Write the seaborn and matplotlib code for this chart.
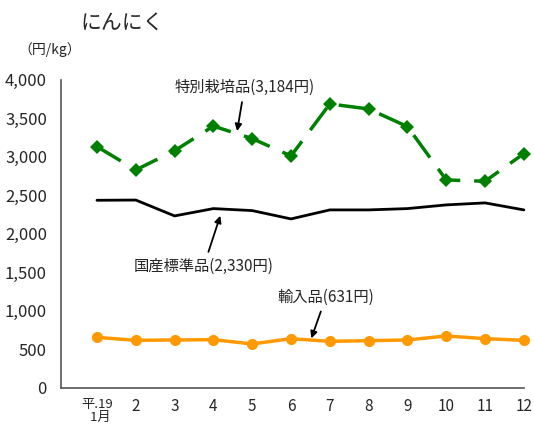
import matplotlib
matplotlib.use('Agg')
import matplotlib.pyplot as plt
import seaborn as sns
import pandas as pd

sns.set_style('white')
plt.rcParams['font.family'] = ['Noto Sans CJK JP', 'DejaVu Sans']

# 月別価格 (円/kg)
months = list(range(1, 13))
month_labels = ['平.19\n  1月', '2', '3', '4', '5', '6', '7', '8', '9', '10', '11', '12']
tokubetsu = [3134, 2831, 3080, 3400, 3238, 3013, 3688, 3623, 3394, 2701, 2684, 3043]
kokusan = [2437, 2440, 2234, 2329, 2303, 2195, 2312, 2312, 2329, 2377, 2403, 2312]
yunyu = [657, 618, 623, 627, 571, 640, 605, 614, 623, 675, 640, 618]

df = pd.DataFrame({'月': months, '特別栽培品': tokubetsu, '国産標準品': kokusan, '輸入品': yunyu})

fig = plt.figure(figsize=(5.34, 4.32), dpi=100)
ax = fig.add_axes([0.114, 0.102, 0.867, 0.713])

sns.lineplot(data=df, x='月', y='特別栽培品', ax=ax, color='#008000', lw=2.5,
             marker='D', markersize=7, markeredgewidth=0)
ax.lines[-1].set_dashes([8, 4])
sns.lineplot(data=df, x='月', y='国産標準品', ax=ax, color='black', lw=2)
sns.lineplot(data=df, x='月', y='輸入品', ax=ax, color='#FF9900', lw=2.5,
             marker='o', markersize=8, markeredgewidth=0)
for ln in ax.lines:
    ln.set_clip_on(False)

ax.set_xlim(0.07, 12)
ax.set_ylim(0, 4000)
ax.set_xticks(months)
ax.set_xticklabels(month_labels, fontsize=11)
first = ax.get_xticklabels()[0]
first.set_fontsize(9.5)
first.set_linespacing(1.0)
ax.set_yticks(range(0, 4001, 500))
ax.set_yticklabels([f'{v:,}' for v in range(0, 4001, 500)], fontsize=12)
ax.tick_params(axis='x', direction='in', length=4, pad=7, color='#555555')
ax.tick_params(axis='y', direction='in', length=4, pad=10, color='#555555')
ax.set_xlabel('')
ax.set_ylabel('')
sns.despine(ax=ax)
for s in ['left', 'bottom']:
    ax.spines[s].set_color('#555555')
    ax.spines[s].set_linewidth(1.2)

fig.text(0.15, 0.945, 'にんにく', fontsize=15, ha='left', va='center')
fig.text(0.035, 0.885, '（円/kg）', fontsize=10, ha='left', va='center')

arrow = dict(arrowstyle='-|>', color='black', lw=1.3, mutation_scale=10)
ax.annotate('特別栽培品(3,184円)', xy=(4.6, 3300), xytext=(4.8, 3900),
            fontsize=11, ha='center', va='center', arrowprops=arrow)
ax.annotate('国産標準品(2,330円)', xy=(4.2, 2270), xytext=(3.75, 1580),
            fontsize=11, ha='center', va='center', arrowprops=arrow)
ax.annotate('輸入品(631円)', xy=(6.5, 610), xytext=(6.9, 1180),
            fontsize=11, ha='center', va='center', arrowprops=arrow)

fig.savefig('out.png', dpi=100)
